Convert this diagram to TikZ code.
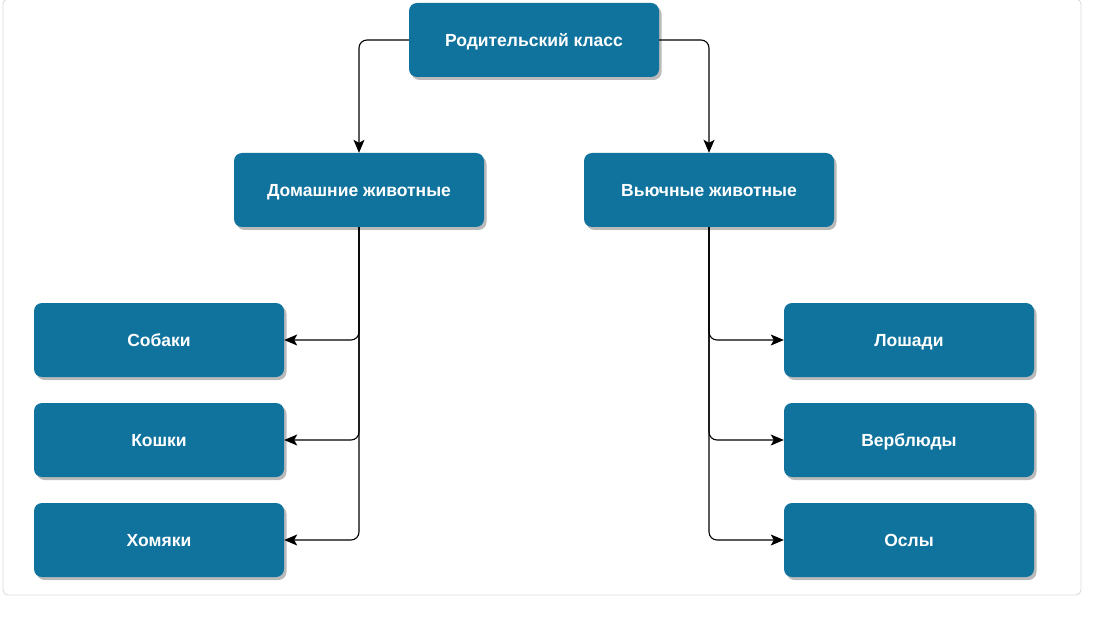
\documentclass[tikz,border=0pt]{standalone}
\usepackage{fontspec}
\setmainfont{Liberation Sans}
\usetikzlibrary{arrows.meta,shadows}
\definecolor{boxblue}{HTML}{10739E}
\definecolor{frame}{HTML}{D5D9E0}
\begin{document}
\begin{tikzpicture}[x=1pt,y=-1pt,
  animal/.style={draw=none, fill=boxblue, rounded corners=8pt, minimum width=250pt, minimum height=74pt,
    text=white, font=\bfseries\fontsize{17.5}{20}\selectfont, inner sep=0pt, text depth=0pt,
    drop shadow={shadow xshift=2.5pt, shadow yshift=-3pt, opacity=0.45, fill=black!60}},
  link/.style={draw=black, line width=1.1pt, rounded corners=8pt, -{Stealth[length=13pt,width=11pt,inset=3pt]}}]
\useasboundingbox (0,0) rectangle (1099,628);
\draw[frame, line width=0.8pt, rounded corners=5pt] (3,-1) rectangle (1081,595);
\node[animal] (par) at (534,40) {Родительский класс};
\node[animal] (dom) at (359,190) {Домашние животные};
\node[animal] (vyu) at (709,190) {Вьючные животные};
\node[animal] (sob) at (159,340) {Собаки};
\node[animal] (kos) at (159,440) {Кошки};
\node[animal] (hom) at (159,540) {Хомяки};
\node[animal] (los) at (909,340) {Лошади};
\node[animal] (ver) at (909,440) {Верблюды};
\node[animal] (osl) at (909,540) {Ослы};
\draw[link] (par.west) -| (dom.north);
\draw[link] (par.east) -| (vyu.north);
\draw[link] (dom.south) |- (sob.east);
\draw[link] (dom.south) |- (kos.east);
\draw[link] (dom.south) |- (hom.east);
\draw[link] (vyu.south) |- (los.west);
\draw[link] (vyu.south) |- (ver.west);
\draw[link] (vyu.south) |- (osl.west);
\end{tikzpicture}
\end{document}
